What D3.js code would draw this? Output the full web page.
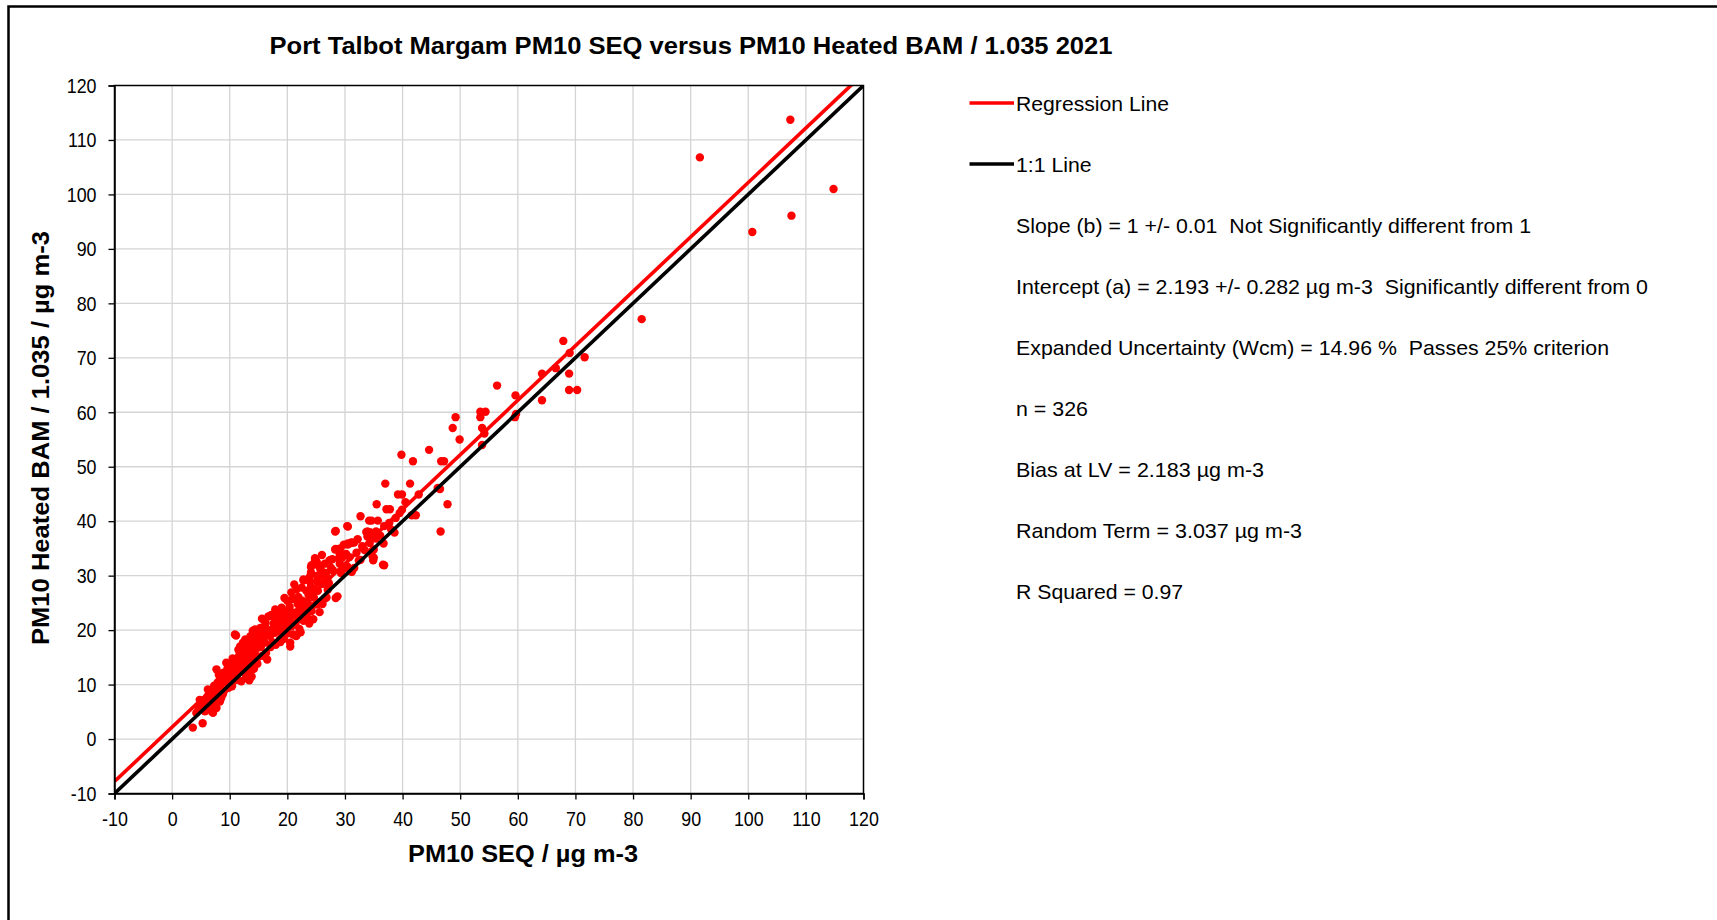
<!DOCTYPE html>
<html>
<head>
<meta charset="utf-8">
<script src="https://cdn.jsdelivr.net/npm/d3@7"></script>
<style>
  html, body { margin: 0; padding: 0; background: #fff; overflow: hidden; }
  svg { display: block; font-family: "Liberation Sans", Arial, sans-serif; }
  text { white-space: pre; }
</style>
</head>
<body>
<svg id="chart" width="1717" height="920"></svg>
<script>
// ---- Data -------------------------------------------------------------
const chartTitle = "Port Talbot Margam PM10 SEQ versus PM10 Heated BAM / 1.035 2021";
const xTitle = "PM10 SEQ / µg m-3";
const yTitle = "PM10 Heated BAM / 1.035 / µg m-3";

const axisTicks = [-10, 0, 10, 20, 30, 40, 50, 60, 70, 80, 90, 100, 110, 120];

const regressionSlope = 1;
const regressionIntercept = 2.193;

const legendLabels = ["Regression Line", "1:1 Line"];

const statLines = [
  "Slope (b) = 1 +/- 0.01  Not Significantly different from 1",
  "Intercept (a) = 2.193 +/- 0.282 µg m-3  Significantly different from 0",
  "Expanded Uncertainty (Wcm) = 14.96 %  Passes 25% criterion",
  "n = 326",
  "Bias at LV = 2.183 µg m-3",
  "Random Term = 3.037 µg m-3",
  "R Squared = 0.97"
];

// paired daily means: [PM10 SEQ, PM10 Heated BAM / 1.035]
const pairsLow = [
  [3.6,2.1],[5.3,2.9],[4.2,4.8],[5.7,5.1],[7.1,4.8],[7.7,5.7],[4.8,7.2],[6.2,7.9],[7.4,6.9],[6.2,9.1],
  [7.4,8.5],[8.8,8.2],[8.3,6.9],[5.5,6.2],[6.8,6.0],[4.6,5.6],[5.0,6.5],[6.0,5.5],[7.0,7.5],[8.0,9.5],
  [7.7,12.8],[8.3,11.0],[9.4,11.6],[9.4,14.0],[8.6,10.2],[9.0,8.8],[9.8,9.4],[8.9,12.2],[9.6,12.9],[7.9,10.4],
  [8.2,8.9],[9.2,10.8],[6.9,5.0],[5.9,7.0],[6.6,8.4],[7.3,9.8],[8.5,7.5],[9.7,10.1],[8.1,11.8],[9.9,12.1]
];
const pairsTen = [
  [10.3,10.3],[10.9,11.9],[12.0,10.6],[10.1,13.6],[10.6,12.4],[10.0,11.1],[10.4,9.7],[11.2,10.9],[11.7,16.2],[12.6,15.3],
  [13.5,12.8],[13.2,11.0],[11.4,13.4],[12.3,17.7],[13.5,17.4],[14.0,18.3],[10.9,19.2],[14.0,19.9],[11.8,17.0],[12.7,16.4],
  [13.8,16.1],[14.4,15.5],[11.6,15.2],[13.3,14.9],[12.1,13.8],[13.6,13.3],[11.6,12.7],[12.7,12.1],[13.8,11.5],[11.0,14.3],
  [12.4,14.6],[14.6,14.2],[14.9,16.8],[10.5,14.8],[11.3,11.8],[12.2,12.9],[13.0,13.9],[14.2,12.9],[14.8,13.8],[12.9,15.8],
  [13.6,18.9],[14.3,17.2],[15.0,15.1],[10.8,12.6],[11.9,14.1],[12.8,11.2],[13.9,14.4],[14.5,16.6],[13.4,10.8],[11.1,19.0],
  [12.5,13.5],[13.1,15.6],[10.2,12.0],[11.5,16.4],[14.1,13.6]
];
const pairsFifteen = [
  [13.9,18.9],[12.7,18.3],[15.0,18.3],[16.1,17.7],[14.4,20.1],[15.3,20.4],[16.1,20.7],[17.3,20.1],[18.4,20.1],[19.6,20.4],
  [20.7,20.7],[21.6,19.0],[20.5,17.7],[18.7,18.3],[17.0,18.9],[15.6,22.1],[16.7,22.5],[17.9,22.0],[19.0,22.3],[19.9,21.7],
  [20.7,22.6],[21.9,22.0],[22.8,21.7],[15.4,16.9],[16.3,15.8],[17.1,16.9],[15.8,18.8],[16.8,19.2],[18.0,17.3],[18.9,19.6],
  [19.4,18.4],[17.6,21.2],[15.2,17.6],[16.5,14.6],[17.8,19.5],[18.6,21.4],[19.2,23.6],[20.1,19.4],[16.0,19.9],[14.7,19.3],
  [20.5,17.0],[21.5,18.9],[18.8,17.8],[15.7,15.3],[17.4,17.8],[16.2,21.3],[19.7,22.9],[18.2,23.1],[15.1,19.8],[17.2,22.8]
];
const pairsTwenty = [
  [17.9,23.8],[19.0,24.1],[20.2,23.5],[21.0,23.2],[22.2,23.5],[23.0,23.2],[24.2,23.5],[20.0,25.4],[20.9,25.7],[21.8,24.8],
  [22.6,25.4],[23.5,25.1],[24.3,24.4],[25.2,25.1],[26.1,24.8],[20.7,26.9],[21.6,27.5],[22.5,27.8],[23.3,27.2],[24.2,26.9],
  [25.3,27.2],[22.8,29.1],[23.9,28.9],[25.3,28.8],[26.2,28.5],[24.1,30.6],[25.2,30.0],[24.8,33.2],[25.1,32.5],[21.4,21.0],
  [22.1,20.2],[23.4,22.4],[24.5,22.0],[21.0,19.2],[23.8,21.2],[25.6,23.3],[26.8,26.0],[19.5,25.9],[21.2,28.4],[22.3,19.6],
  [25.2,24.7],[28.4,25.9],[22.8,29.3],[23.9,29.8],[27.0,27.4],[24.9,27.4],[26.4,28.7],[24.1,28.0],[25.2,29.0],[28.7,26.2],
  [20.4,24.3],[21.9,26.1],[23.1,24.1],[19.8,23.0],[22.0,22.5],[26.5,25.8],[27.2,28.6],[24.6,26.0],[20.6,21.5],[23.7,26.4]
];
const pairsThirty = [
  [24.8,32.8],[24.2,31.9],[25.7,31.3],[26.5,32.2],[27.3,32.8],[25.9,30.1],[29.8,31.3],[31.2,30.7],[27.9,31.0],[29.1,32.2],
  [28.4,38.2],[30.5,39.0],[28.4,34.9],[29.8,35.7],[30.5,35.7],[31.1,36.1],[31.6,36.1],[33.7,38.0],[34.3,38.0],[35.0,37.1],
  [35.6,37.4],[36.1,37.4],[34.3,36.0],[35.0,34.8],[35.0,33.3],[32.7,32.9],[36.6,32.0],[29.1,33.9],[29.5,33.3],[27.5,32.9],
  [24.9,32.9],[25.2,32.0],[24.1,31.6],[25.8,31.1],[26.7,30.5],[27.6,31.4],[30.4,31.7],[31.6,31.4],[29.3,30.5],[31.0,30.8],
  [25.2,29.0],[26.4,28.7],[28.3,34.8],[29.2,35.0],[27.8,33.0],[28.9,33.1],[30.2,34.0],[30.8,33.4],[33.4,34.7],[34.6,34.4],
  [34.9,32.8],[34.8,33.5],[36.8,31.9],[32.4,32.8],[33.9,37.2],[35.4,36.8],[36.7,35.9],[30.5,35.9],[31.1,36.0],[32.7,40.9],
  [34.2,40.1],[34.6,40.1],[35.7,40.1],[33.9,38.1],[35.4,38.1],[34.6,37.4],[36.8,39.1],[37.7,39.7],[38.0,38.5],[38.6,37.9],
  [28.3,38.1],[30.4,39.1],[35.5,43.1],[37.2,42.2],[32.2,36.7],[33.0,35.4],[26.0,33.8],[27.0,29.6],[32.0,34.2]
];
const pairsForty = [
  [37.0,46.9],[39.9,42.1],[39.2,44.9],[39.9,44.9],[41.3,46.9],[42.8,44.9],[46.5,45.9],[47.8,43.1],[41.6,41.1],[42.3,41.1],
  [46.6,38.1],[39.8,52.2],[41.8,51.0],[44.6,53.1],[46.7,51.0],[47.2,51.0],[48.7,57.1],[49.2,59.1],[49.9,55.0],[53.5,60.1],
  [54.4,60.1],[53.5,59.1],[53.8,57.1],[54.2,56.1],[53.8,54.0],[37.8,42.2],[40.5,43.5],[38.8,40.6],[46.1,46.1],[39.5,41.5]
];
const pairsHigh = [
  [56.4,64.9],[59.6,63.1],[64.2,67.1],[64.2,62.2],[59.7,59.7],[59.5,59.1],[66.6,68.1],[68.9,67.1],[68.9,64.1],[70.3,64.1],
  [67.9,73.1],[69.0,70.9],[71.6,70.1],[81.5,77.1],[91.6,106.8],[100.7,93.1],[107.3,113.7],[107.5,96.1],[114.8,101.0]
];

const pairs = [].concat(pairsLow, pairsTen, pairsFifteen, pairsTwenty, pairsThirty, pairsForty, pairsHigh);

// ---- Layout -----------------------------------------------------------
const W = 1717, H = 920;
const plot = { left: 114.5, right: 863.5, top: 85.5, bottom: 793.5 };
const RED = "#ff0000";
const BLACK = "#000000";
const GRID = "#d4d4d4";

const svg = d3.select("#chart");

// outer chart frame (extends past the bottom/right edge)
svg.append("rect")
  .attr("x", 8.5).attr("y", 6.5)
  .attr("width", W + 20).attr("height", H + 20)
  .attr("fill", "#fff")
  .attr("stroke", BLACK).attr("stroke-width", 2.5);

const x = d3.scaleLinear().domain([-10, 120]).range([plot.left, plot.right]);
const y = d3.scaleLinear().domain([-10, 120]).range([plot.bottom, plot.top]);

// fit a text element to a measured width
function fitWidth(sel, width) {
  sel.attr("textLength", width).attr("lengthAdjust", "spacingAndGlyphs");
}

// gridlines
const grid = svg.append("g");
grid.selectAll("line.v").data(axisTicks.slice(1, -1)).join("line")
  .attr("x1", d => x(d)).attr("x2", d => x(d))
  .attr("y1", plot.top).attr("y2", plot.bottom)
  .attr("stroke", GRID).attr("stroke-width", 1.3);
grid.selectAll("line.h").data(axisTicks.slice(1, -1)).join("line")
  .attr("y1", d => y(d)).attr("y2", d => y(d))
  .attr("x1", plot.left).attr("x2", plot.right)
  .attr("stroke", GRID).attr("stroke-width", 1.3);

// clip for series
svg.append("clipPath").attr("id", "plotClip")
  .append("rect")
  .attr("x", plot.left).attr("y", plot.top)
  .attr("width", plot.right - plot.left).attr("height", plot.bottom - plot.top);

// scatter points
svg.append("g").attr("clip-path", "url(#plotClip)")
  .selectAll("circle").data(pairs).join("circle")
  .attr("cx", d => x(d[0])).attr("cy", d => y(d[1]))
  .attr("r", 4.2).attr("fill", RED);

// regression and 1:1 lines
const lineGen = d3.line().x(d => x(d[0])).y(d => y(d[1]));
const domainEnds = [-10, 120];
const regLine = domainEnds.map(v => [v, regressionSlope * v + regressionIntercept]);
const oneToOne = domainEnds.map(v => [v, v]);
const lines = svg.append("g").attr("clip-path", "url(#plotClip)");
lines.append("path").attr("d", lineGen(regLine))
  .attr("fill", "none").attr("stroke", RED).attr("stroke-width", 3.6);
lines.append("path").attr("d", lineGen(oneToOne))
  .attr("fill", "none").attr("stroke", BLACK).attr("stroke-width", 3.6);

// plot area border
svg.append("rect")
  .attr("x", plot.left).attr("y", plot.top)
  .attr("width", plot.right - plot.left).attr("height", plot.bottom - plot.top)
  .attr("fill", "none").attr("stroke", BLACK).attr("stroke-width", 1.5);

// axes
const fmt = d => String(d);
const xAxis = svg.append("g")
  .attr("transform", `translate(0,${plot.bottom})`)
  .call(d3.axisBottom(x).tickValues(axisTicks).tickFormat(fmt).tickSizeOuter(0).tickSize(6).tickPadding(12));
const yAxis = svg.append("g")
  .attr("transform", `translate(${plot.left},0)`)
  .call(d3.axisLeft(y).tickValues(axisTicks).tickFormat(fmt).tickSizeOuter(0).tickSize(6).tickPadding(12));

[xAxis, yAxis].forEach(a => {
  a.select(".domain").attr("stroke", BLACK).attr("stroke-width", 1.5);
  a.selectAll(".tick line").attr("stroke", BLACK).attr("stroke-width", 1.3);
  a.selectAll(".tick text")
    .attr("fill", BLACK)
    .style("font-family", '"Liberation Sans", Arial, sans-serif')
    .style("font-size", "21px")
    .each(function () {
      const t = d3.select(this);
      const w = this.getComputedTextLength();
      fitWidth(t, w * 0.85);
    });
});

// title
svg.append("text")
  .attr("x", 691).attr("y", 54)
  .attr("text-anchor", "middle")
  .style("font-size", "23px").style("font-weight", "bold")
  .text(chartTitle)
  .call(fitWidth, 843);

// axis titles
svg.append("text")
  .attr("x", 523).attr("y", 862)
  .attr("text-anchor", "middle")
  .style("font-size", "24px").style("font-weight", "bold")
  .text(xTitle)
  .call(fitWidth, 230);

svg.append("text")
  .attr("transform", "translate(49,438) rotate(-90)")
  .attr("text-anchor", "middle")
  .style("font-size", "24px").style("font-weight", "bold")
  .text(yTitle)
  .call(fitWidth, 414);

// legend and statistics block
const rowStart = 103, rowStep = 61;
const textX = 1016;
const legendColors = [RED, BLACK];
const legendWidths = [153, 75.6];
const statWidths = [515, 632, 593, 72, 248, 286, 167];

const legend = svg.append("g");
legendLabels.forEach((label, i) => {
  const cy = rowStart + i * rowStep;
  legend.append("line")
    .attr("x1", 969.5).attr("x2", 1014).attr("y1", cy).attr("y2", cy)
    .attr("stroke", legendColors[i]).attr("stroke-width", 3.5);
  legend.append("text")
    .attr("x", textX).attr("y", cy).attr("dy", "0.36em")
    .style("font-size", "21px")
    .text(label)
    .call(fitWidth, legendWidths[i]);
});

statLines.forEach((line, i) => {
  const cy = rowStart + (i + 2) * rowStep;
  legend.append("text")
    .attr("x", textX).attr("y", cy).attr("dy", "0.36em")
    .style("font-size", "21px")
    .text(line)
    .call(fitWidth, statWidths[i]);
});
</script>
</body>
</html>
